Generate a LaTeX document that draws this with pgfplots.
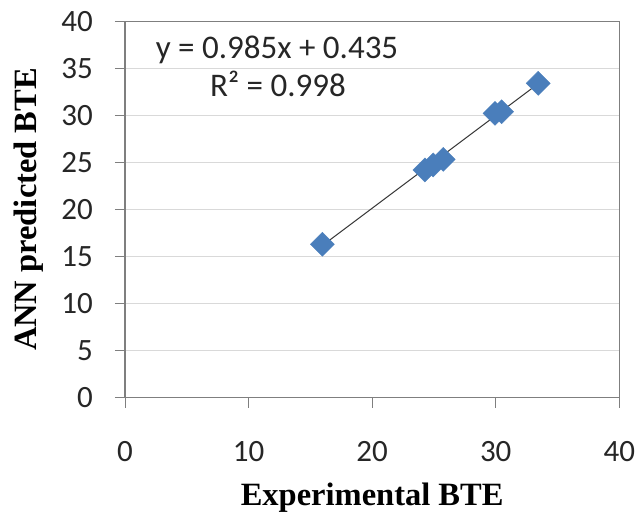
\documentclass[border=0pt]{standalone}
\usepackage{pgfplots}
\pgfplotsset{compat=1.18}
\usepackage{fontspec}
\setmainfont{Carlito}
\newfontfamily\timesfont{Liberation Serif}
\definecolor{mblue}{HTML}{4A7EBB}
\definecolor{framegray}{HTML}{7F7F7F}
\definecolor{gridgray}{HTML}{D9D9D9}
\begin{document}
\begin{tikzpicture}
\path[use as bounding box] (0pt,0pt) rectangle (639pt,511pt);
\begin{axis}[
  at={(125pt,113.3pt)}, anchor=south west,
  scale only axis, width=494.3pt, height=376.4pt,
  xmin=0, xmax=40, ymin=0, ymax=40,
  xtick={0,10,20,30,40}, ytick={0,5,10,15,20,25,30,35,40},
  xtick pos=bottom, ytick pos=left,
  tick align=outside, major tick length=10pt,
  ymajorgrids, grid style={gridgray, line width=1pt},
  axis line style={framegray, line width=1.5pt},
  tick style={framegray, line width=1pt},
  /pgf/number format/assume math mode=true,
  ticklabel style={font=\fontsize{31}{31}\selectfont, text=black!85, inner sep=0pt},
  xticklabel style={anchor=north, yshift=-33pt},
  yticklabel style={anchor=east, xshift=-22pt},
  xlabel={Experimental BTE},
  ylabel={ANN predicted BTE},
  xlabel style={font=\timesfont\bfseries\fontsize{32.5}{32.5}\selectfont, at={([yshift=-107.3pt]axis description cs:0.5,0)}, anchor=base},
  ylabel style={font=\timesfont\bfseries\fontsize{32.5}{32.5}\selectfont, rotate=0, at={([xshift=-88pt]axis description cs:0,0.5)}, anchor=base},
  clip=false,
]
\addplot[only marks, mark=square*, mark size=8.5pt, mark options={rotate=45, fill=mblue, draw=mblue}] coordinates {
(15.97,16.31) (24.27,24.20) (24.94,24.73) (25.75,25.33) (29.94,30.22) (30.48,30.39) (33.44,33.41)
};
\addplot[black!80, line width=1pt, no marks] coordinates {(15.97,16.165) (33.44,33.373)};
\draw[framegray, line width=1.5pt] (rel axis cs:0,0) rectangle (rel axis cs:1,1);
\node[anchor=base, font=\fontsize{33}{33}\selectfont, text=black!85] at (axis cs:12.3,36.07) {y = 0.985x + 0.435};
\node[anchor=base, font=\fontsize{33}{33}\selectfont, text=black!85] at (axis cs:12.38,31.96) {R² = 0.998};
\end{axis}
\end{tikzpicture}
\end{document}
